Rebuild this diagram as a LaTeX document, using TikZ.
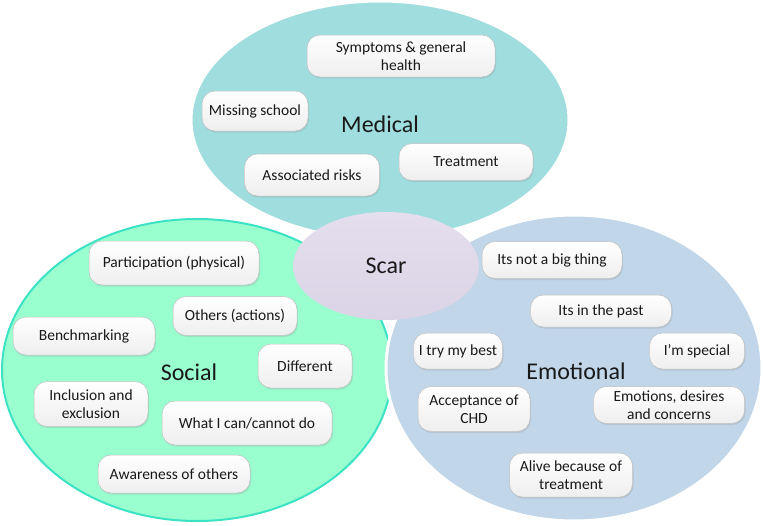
\documentclass[tikz,border=0pt]{standalone}
\usepackage{fontspec}
\setmainfont{Carlito}
\usetikzlibrary{shapes.geometric, shadows}
\definecolor{medfill}{RGB}{160,221,223}
\definecolor{socfill}{RGB}{153,255,206}
\definecolor{socline}{RGB}{60,226,196}
\definecolor{emofill}{RGB}{193,214,232}
\definecolor{scartop}{RGB}{228,222,238}
\definecolor{scarbot}{RGB}{218,212,230}
\tikzset{
  region/.style={ellipse, draw=white, line width=3pt, inner sep=0pt},
  theme/.style={font=\fontsize{24}{28}\selectfont, text=black!90},
  item/.style={rounded corners=13pt, draw=gray!50, line width=0.5pt,
    top color=white, bottom color=gray!13, align=center, inner sep=1pt,
    font=\fontsize{15.5}{18}\selectfont, text=black!90,
    drop shadow={opacity=0.2, shadow xshift=1pt, shadow yshift=-1.5pt}}
}

\begin{document}
\begin{tikzpicture}[x=1pt, y=-1pt]
% init
\path[fill=white, use as bounding box] (0,0) rectangle (763,525);
% regions
\node[region, draw=socline, line width=2pt, fill=socfill, minimum width=390, minimum height=302] (social) at (197,370) {};
\node[region, fill=emofill, minimum width=376, minimum height=306] (emotional) at (574,368) {};
\node[region, fill=medfill, minimum width=378, minimum height=238] (medical) at (380,120) {};
\node[region, draw=none, top color=scartop, bottom color=scarbot, minimum width=186, minimum height=108] (scar) at (386,266) {};
% titles
\node[theme] (medlab) at (380,124) {Medical};
\node[theme] (soclab) at (189,372) {Social};
\node[theme] (emolab) at (576,371) {Emotional};
\node[theme] (scarlab) at (386,266) {Scar};
% medical
\node[item, minimum width=188, minimum height=42] (symp) at (401,56) {Symptoms \& general\\health};
\node[item, minimum width=106, minimum height=40] (miss) at (255,111) {Missing school};
\node[item, minimum width=135, minimum height=42] (assoc) at (312,175) {Associated risks};
\node[item, minimum width=134, minimum height=37] (treat) at (466,162) {Treatment};
% social
\node[item, minimum width=170, minimum height=44] (part) at (174,263) {Participation (physical)};
\node[item, minimum width=124, minimum height=39] (others) at (235,316) {Others (actions)};
\node[item, minimum width=142, minimum height=38] (bench) at (84,336) {Benchmarking};
\node[item, minimum width=94, minimum height=44] (diff) at (305,366) {Different};
\node[item, minimum width=114, minimum height=45] (incl) at (91,404) {Inclusion and\\exclusion};
\node[item, minimum width=170, minimum height=44] (what) at (247,423) {What I can/cannot do};
\node[item, minimum width=152, minimum height=38] (aware) at (174,474) {Awareness of others};
% emotional
\node[item, minimum width=140, minimum height=37] (bigthing) at (552,260) {Its not a big thing};
\node[item, minimum width=141, minimum height=32] (past) at (601,311) {Its in the past};
\node[item, minimum width=89, minimum height=36] (best) at (458,351) {I try my best};
\node[item, minimum width=95, minimum height=36] (special) at (697,351) {I’m special};
\node[item, minimum width=112, minimum height=45] (accept) at (474,409) {Acceptance of\\CHD};
\node[item, minimum width=151, minimum height=37] (desires) at (669,405) {Emotions, desires\\and concerns};
\node[item, minimum width=123, minimum height=44] (alive) at (571,475) {Alive because of\\treatment};
\end{tikzpicture}
\end{document}
